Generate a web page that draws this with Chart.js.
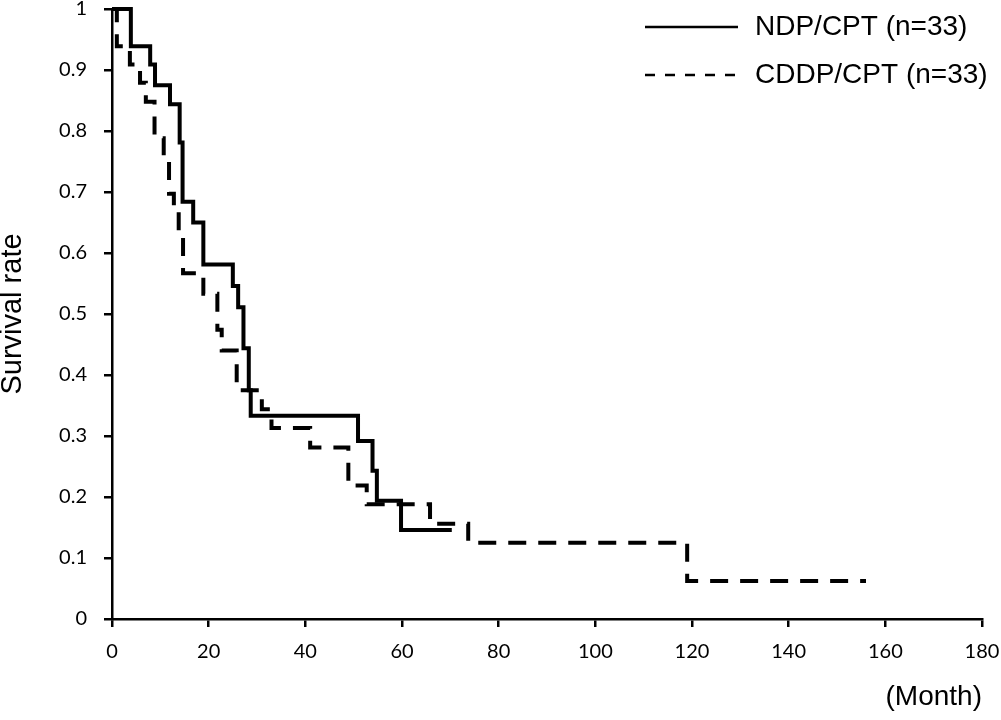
<!DOCTYPE html>
<html>
<head>
<meta charset="utf-8">
<script src="https://cdn.jsdelivr.net/npm/chart.js@4.4.1/dist/chart.umd.min.js"></script>
<style>
    html, body { margin: 0; padding: 0; background: #fff; }
    #wrap { width: 1001px; height: 720px; }
</style>
</head>
<body>
<div id="wrap"><canvas id="survivalChart" width="1001" height="720"></canvas></div>
<script>
// ==================== DATA ====================
const ndpMonths   = [0, 3.9, 7.9, 8.9, 12, 14, 14.6, 16.8, 18.9, 25, 26.1, 27.2, 28.3, 28.7, 50.9, 53.9, 54.8, 59.8, 70.3];
const ndpSurvival = [1, 0.939, 0.909, 0.875, 0.844, 0.781, 0.684, 0.65, 0.581, 0.546, 0.511, 0.444, 0.375, 0.333, 0.292, 0.243, 0.194, 0.146, 0.146];

const cddpMonths   = [0, 1, 3.7, 5.8, 7, 8.8, 10.7, 11.8, 12.8, 13.8, 14.7, 18.9, 21.8, 22.7, 25.8, 31, 33, 41, 48.9, 52.7, 65.8, 73.7, 119, 156];
const cddpSurvival = [1, 0.939, 0.909, 0.879, 0.848, 0.788, 0.758, 0.697, 0.667, 0.636, 0.567, 0.533, 0.474, 0.44, 0.375, 0.344, 0.313, 0.281, 0.219, 0.188, 0.156, 0.125, 0.0625, 0.0625];

const seriesLabels = ['NDP/CPT (n=33)', 'CDDP/CPT (n=33)'];
const xTickLabels = ['0', '20', '40', '60', '80', '100', '120', '140', '160', '180'];
const yTickLabels = ['0', '0.1', '0.2', '0.3', '0.4', '0.5', '0.6', '0.7', '0.8', '0.9', '1'];

// ==================== HELPERS ====================
const toPoints = (xs, ys) => xs.map((x, i) => ({ x: x, y: ys[i] }));
const LABEL_FONT = 'Liberation Sans, Arial, sans-serif';

// legend drawn top right, inside the plot
const legendPlugin = {
    id: 'kmLegend',
    afterDraw(chart) {
        const ctx = chart.ctx;
        const rows = [
            { y: 27, dash: [] },
            { y: 75, dash: [10, 10] }
        ];
        ctx.save();
        ctx.strokeStyle = '#000';
        ctx.fillStyle = '#000';
        ctx.lineWidth = 2.5;
        ctx.font = '28px ' + LABEL_FONT;
        ctx.textBaseline = 'middle';
        rows.forEach((r, i) => {
            ctx.setLineDash(r.dash);
            ctx.beginPath();
            ctx.moveTo(645, r.y);
            ctx.lineTo(738, r.y);
            ctx.stroke();
            ctx.setLineDash([]);
            ctx.fillText(seriesLabels[i], 755, r.y);
        });
        ctx.restore();
    }
};

// ==================== CHART ====================
const ctx = document.getElementById('survivalChart').getContext('2d');

new Chart(ctx, {
    type: 'line',
    data: {
        datasets: [
            {
                label: seriesLabels[0],
                data: toPoints(ndpMonths, ndpSurvival),
                borderColor: '#000',
                borderWidth: 4,
                stepped: true,
                pointRadius: 0,
                fill: false,
                clip: false
            },
            {
                label: seriesLabels[1],
                data: toPoints(cddpMonths, cddpSurvival),
                borderColor: '#000',
                borderWidth: 4,
                borderDash: [18, 12],
                stepped: true,
                pointRadius: 0,
                fill: false,
                clip: false
            }
        ]
    },
    options: {
        responsive: false,
        animation: false,
        layout: { padding: { left: 0, right: 19, top: 9, bottom: 0 } },
        plugins: {
            legend: { display: false },
            tooltip: { enabled: false }
        },
        scales: {
            x: {
                type: 'linear',
                min: 0,
                max: 180,
                afterFit: s => { s.height = 101; s.paddingLeft = 0; s.paddingRight = 0; },
                border: { display: true, color: '#000', width: 2.5 },
                grid: { display: true, drawOnChartArea: false, drawTicks: true, tickLength: 8, color: '#000', lineWidth: 2.5 },
                ticks: {
                    stepSize: 20,
                    color: '#000',
                    padding: 13,
                    font: { family: 'Lato', size: 20 },
                    callback: (v, i) => xTickLabels[i]
                },
                title: {
                    display: true,
                    text: '(Month)',
                    align: 'end',
                    color: '#000',
                    font: { family: LABEL_FONT, size: 28 },
                    padding: { top: 0, bottom: 6 }
                }
            },
            y: {
                min: 0,
                max: 1,
                afterFit: s => { s.width = 112; s.paddingTop = 0; s.paddingBottom = 0; },
                border: { display: true, color: '#000', width: 2.5 },
                grid: { display: true, drawOnChartArea: false, drawTicks: true, tickLength: 8, color: '#000', lineWidth: 2.5 },
                ticks: {
                    stepSize: 0.1,
                    color: '#000',
                    padding: 17,
                    font: { family: 'Lato', size: 20 },
                    callback: (v, i) => yTickLabels[i]
                },
                title: {
                    display: true,
                    text: 'Survival rate',
                    color: '#000',
                    font: { family: LABEL_FONT, size: 29, lineHeight: 0.9 },
                    padding: { top: 0, bottom: 0 }
                }
            }
        }
    },
    plugins: [legendPlugin]
});
</script>
</body>
</html>
